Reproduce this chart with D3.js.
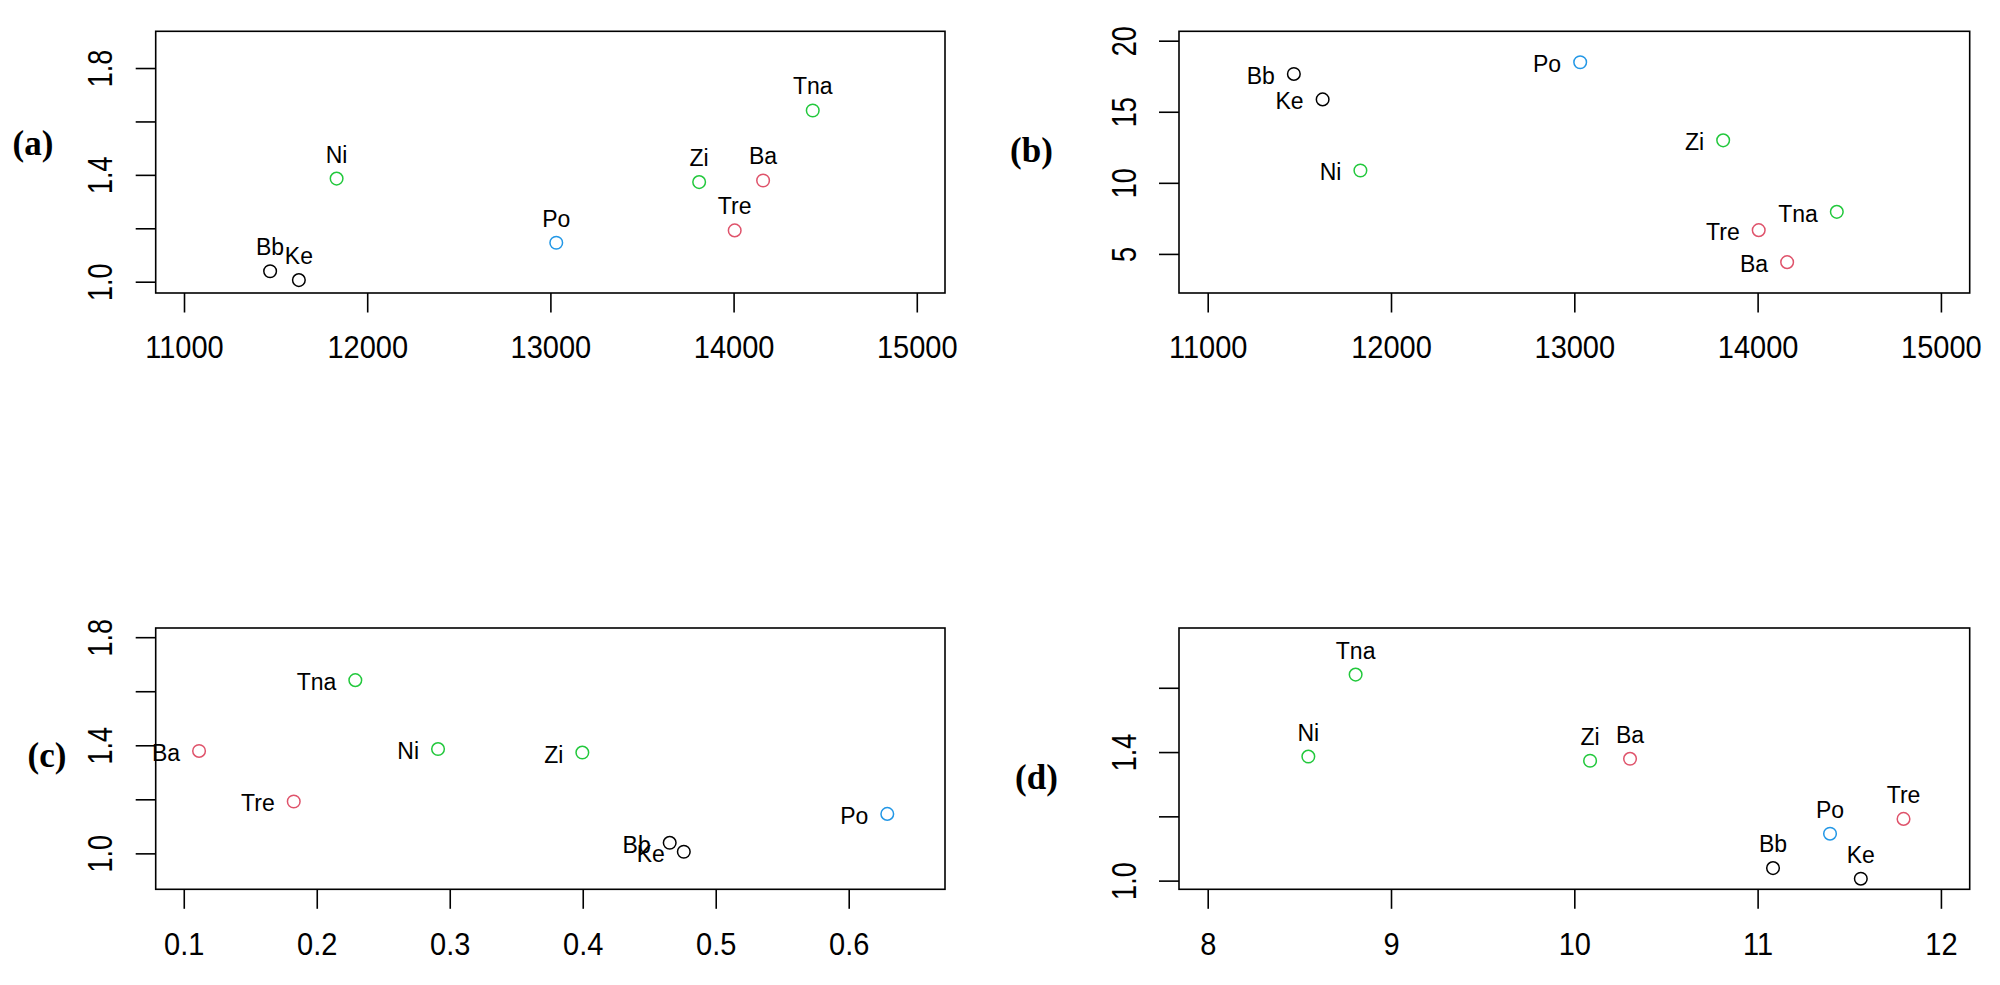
<!DOCTYPE html>
<html>
<head>
<meta charset="utf-8">
<script src="https://cdn.jsdelivr.net/npm/d3@7"></script>
<style>
  html, body { margin: 0; padding: 0; background: #fff; }
  svg { display: block; }
  text { font-family: "Liberation Sans", Arial, sans-serif; fill: #000; }
  .plabel { font-family: "Liberation Serif", "Times New Roman", serif; font-size: 35px; font-weight: bold; }
</style>
</head>
<body>
<svg id="chart" width="2000" height="985"></svg>
<script>
// ---------- data ----------
const names   = ["Bb", "Ke", "Ni", "Po", "Zi", "Tre", "Ba", "Tna"];
const colors  = ["#000000", "#000000", "#22C83C", "#2297E6", "#22C83C", "#DF536B", "#DF536B", "#22C83C"];
const xAB     = [11470, 11627, 11833, 13032, 13812, 14006, 14161, 14432];   // x of panels (a),(b)
const yACD    = [1.039, 1.006, 1.386, 1.146, 1.373, 1.192, 1.379, 1.641];   // y of panels (a),(c),(d)
const yB      = [17.66, 15.87, 10.87, 18.48, 12.99, 6.67, 4.42, 7.96];      // y of panel (b)
const xC      = [0.4654, 0.476, 0.2912, 0.629, 0.3997, 0.1827, 0.1115, 0.229]; // x of panel (c)
const xD      = [11.084, 11.563, 8.549, 11.395, 10.086, 11.796, 10.304, 8.807]; // x of panel (d)

const xTicksAB = [11000, 12000, 13000, 14000, 15000];
const xTickLabelsAB = ["11000", "12000", "13000", "14000", "15000"];
const yTicksAC = [1.0, 1.2, 1.4, 1.6, 1.8];
const yTickLabelsAC = ["1.0", "", "1.4", "", "1.8"];
const yTicksB = [5, 10, 15, 20];
const yTickLabelsB = ["5", "10", "15", "20"];
const xTicksC = [0.1, 0.2, 0.3, 0.4, 0.5, 0.6];
const xTickLabelsC = ["0.1", "0.2", "0.3", "0.4", "0.5", "0.6"];
const xTicksD = [8, 9, 10, 11, 12];
const xTickLabelsD = ["8", "9", "10", "11", "12"];
const yTicksD = [1.0, 1.2, 1.4, 1.6];
const yTickLabelsD = ["1.0", "", "1.4", ""];
const panelTags = ["(a)", "(b)", "(c)", "(d)"];

// ---------- layout ----------
const svg = d3.select("#chart");

const panels = [
  { tag: panelTags[0], box: [155.7, 31.3, 945, 293], xd: [10845.5, 15154], yd: [0.9577, 1.9375],
    xs: xAB, ys: yACD, xt: xTicksAB, xl: xTickLabelsAB, yt: yTicksAC, yl: yTickLabelsAC,
    pos: "above", tagPos: [33, 143] },
  { tag: panelTags[1], box: [1179, 31.3, 1969.7, 293], xd: [10843.4, 15157], yd: [2.25, 20.66],
    xs: xAB, ys: yB, xt: xTicksAB, xl: xTickLabelsAB, yt: yTicksB, yl: yTickLabelsB,
    pos: "left", tagPos: [1031.5, 150] },
  { tag: panelTags[2], box: [155.7, 628, 945, 889.3], xd: [0.0789, 0.6724], yd: [0.867, 1.834],
    xs: xC, ys: yACD, xt: xTicksC, xl: xTickLabelsC, yt: yTicksAC, yl: yTickLabelsAC,
    pos: "left", tagPos: [47, 755] },
  { tag: panelTags[3], box: [1179, 628, 1969.7, 889.3], xd: [7.8434, 12.157], yd: [0.973, 1.786],
    xs: xD, ys: yACD, xt: xTicksD, xl: xTickLabelsD, yt: yTicksD, yl: yTickLabelsD,
    pos: "above", tagPos: [1036.5, 777.5] }
];

panels.forEach(p => {
  const [x0, y0, x1, y1] = p.box;
  const x = d3.scaleLinear().domain(p.xd).range([x0, x1]);
  const y = d3.scaleLinear().domain(p.yd).range([y1, y0]);
  const g = svg.append("g");

  // frame
  g.append("rect")
    .attr("x", x0).attr("y", y0).attr("width", x1 - x0).attr("height", y1 - y0)
    .attr("fill", "none").attr("stroke", "#000").attr("stroke-width", 1.6);

  // bottom axis
  const xAxis = d3.axisBottom(x).tickValues(p.xt)
    .tickFormat((d, i) => p.xl[i]).tickSize(19.5).tickSizeOuter(0);
  const gx = g.append("g").attr("transform", `translate(0,${y1})`).call(xAxis);
  gx.select(".domain").remove();
  gx.selectAll(".tick line").attr("stroke", "#000").attr("stroke-width", 1.6);
  gx.selectAll(".tick text")
    .attr("dy", null)
    .style("font-size", "29px")
    .attr("transform", "scale(1,1.08)")
    .attr("y", 65.5 / 1.08);

  // left axis
  const yAxis = d3.axisLeft(y).tickValues(p.yt)
    .tickFormat((d, i) => p.yl[i]).tickSize(20).tickSizeOuter(0);
  const gy = g.append("g").attr("transform", `translate(${x0},0)`).call(yAxis);
  gy.select(".domain").remove();
  gy.selectAll(".tick line").attr("stroke", "#000").attr("stroke-width", 1.6);
  gy.selectAll(".tick text")
    .attr("x", null).attr("dy", null)
    .attr("text-anchor", "middle")
    .attr("dominant-baseline", "central")
    .style("font-size", "27px")
    .attr("transform", "translate(-55,0) rotate(-90) scale(1,1.3)");

  // points
  const idx = d3.range(names.length);
  g.selectAll("circle.pt").data(idx).join("circle")
    .attr("class", "pt")
    .attr("cx", i => x(p.xs[i])).attr("cy", i => y(p.ys[i]))
    .attr("r", 6.3)
    .attr("fill", "none").attr("stroke", i => colors[i]).attr("stroke-width", 1.5);

  // point labels
  g.selectAll("text.lbl").data(idx).join("text")
    .attr("class", "lbl")
    .style("font-size", "23px")
    .attr("text-anchor", p.pos === "above" ? "middle" : "end")
    .attr("x", i => p.pos === "above" ? x(p.xs[i]) : x(p.xs[i]) - 19)
    .attr("y", i => p.pos === "above" ? y(p.ys[i]) - 16 : y(p.ys[i]) + 10)
    .text(i => names[i]);

  // panel tag
  svg.append("text").attr("class", "plabel")
    .attr("x", p.tagPos[0]).attr("y", p.tagPos[1])
    .attr("text-anchor", "middle").attr("dominant-baseline", "central")
    .text(p.tag);
});
</script>
</body>
</html>
